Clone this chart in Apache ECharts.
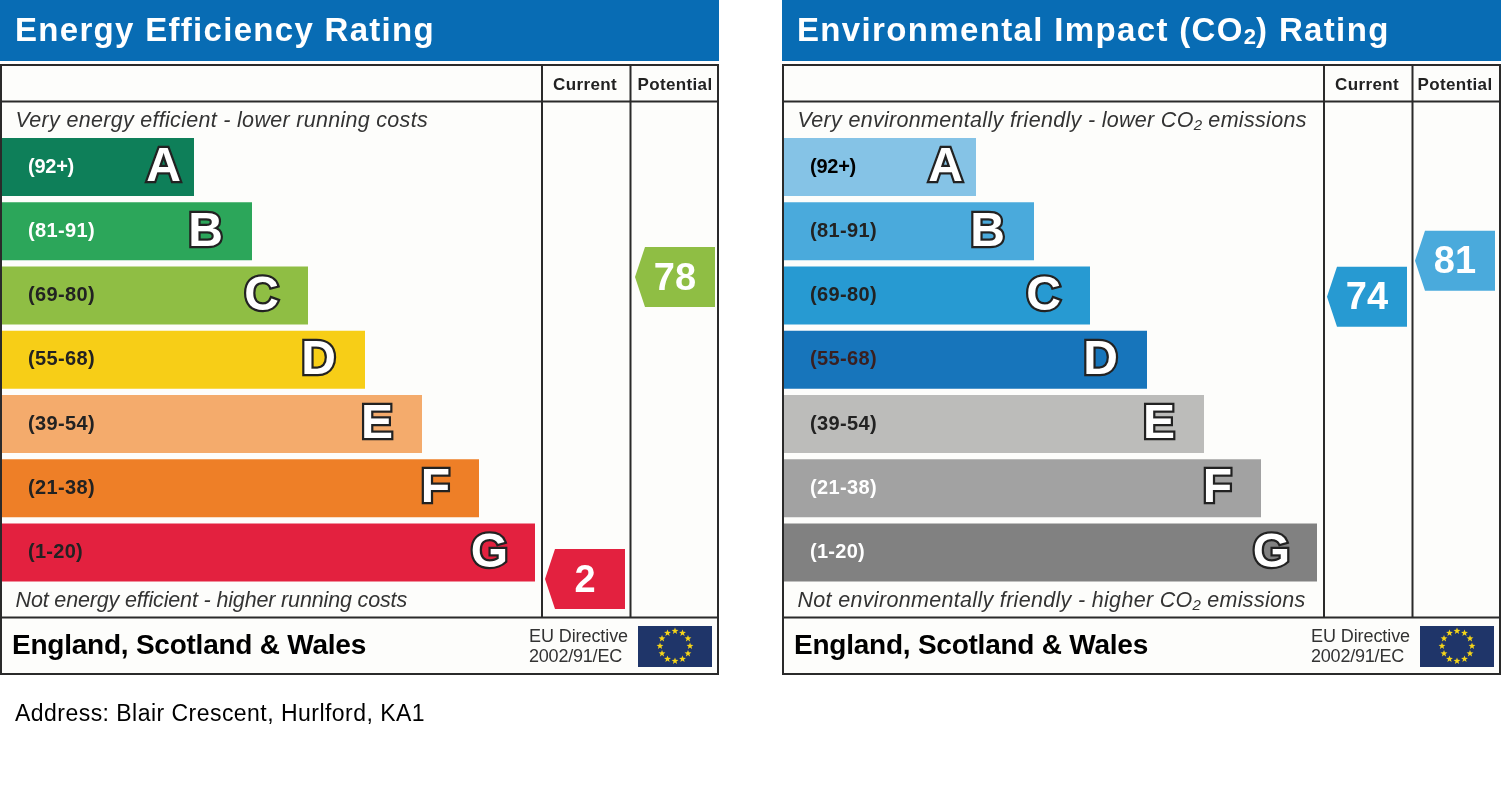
<!DOCTYPE html>
<html><head><meta charset="utf-8">
<style>html,body{margin:0;padding:0;background:#fff}#c{width:1501px;height:805px}</style>
<script src="https://cdn.jsdelivr.net/npm/echarts@6/dist/echarts.min.js"></script>
</head><body><div id="c"></div>
<script>
// ---------- data ----------
const bandLetters = ['A','B','C','D','E','F','G'];
const bandRanges = ['(92+)','(81-91)','(69-80)','(55-68)','(39-54)','(21-38)','(1-20)'];
const bandMinScores = [92,81,69,55,39,21,1];
const bandLengths = [192,250,306,363,420,477,533];
const columnNames = ['Current','Potential'];
const energyScores = [2,78];
const co2Scores = [74,81];
const energyColors = ['#0E7F59','#2CA65A','#8FBE44','#F7CE17','#F4AB6C','#EE7F27','#E3213F'];
const co2Colors = ['#85C3E6','#4AAADC','#279AD2','#1775BB','#BCBCBA','#A2A2A2','#818181'];
const energyRangeColors = ['#fff','#fff','#222','#222','#222','#222','#222'];
const co2RangeColors = ['#000','#222','#222','#3a1f1f','#222','#fff','#fff'];

const FONT = '"Liberation Sans", Arial, sans-serif';
const mc = document.createElement('canvas').getContext('2d');

// Per-string letter spacing: the reference's type is tracked out, canvas supports this natively.
const tracking = {};
const P = CanvasRenderingContext2D.prototype;
const origFill = P.fillText, origStroke = P.strokeText, origMeasure = P.measureText;
P.fillText = function(t,x,y,m){ this.letterSpacing=(tracking[t]||0)+'px'; return m===undefined?origFill.call(this,t,x,y):origFill.call(this,t,x,y,m); };
P.strokeText = function(t,x,y,m){ this.letterSpacing=(tracking[t]||0)+'px'; return m===undefined?origStroke.call(this,t,x,y):origStroke.call(this,t,x,y,m); };
P.measureText = function(t){
  this.letterSpacing='0px';
  const r=origMeasure.call(this,t);
  return tracking[t]?{width:r.width+tracking[t]*t.length}:r;
};
function track(tokens, target){
  let w=0,n=0;
  tokens.forEach(([t,f])=>{mc.font=f;w+=origMeasure.call(mc,t).width;n+=t.length;});
  const s=(target-w)/n;
  tokens.forEach(([t])=>{ if(t.length>1) tracking[t]=s; });
}
function fitText(parts, size, style, x0, x1, y, fill, subSize, subPad){
  const font=(style?style+' ':'')+size+'px '+FONT, subFont=(style?style+' ':'')+subSize+'px '+FONT;
  if(parts.length===1){
    track([[parts[0],font]],x1-x0);
    return {type:'text',x:x0,y:y,silent:true,z:5,
      style:{text:parts[0],font:font,fill:fill,textAlign:'left',textVerticalAlign:'middle'}};
  }
  track([[parts[0],font],[parts[1],subFont],[parts[2],font]],x1-x0);
  return {type:'text',x:x0,y:y,silent:true,z:5,
    style:{text:parts[0]+'{s|'+parts[1]+'}'+parts[2],font:font,fill:fill,textAlign:'left',textVerticalAlign:'middle',
      rich:{s:{font:subFont,fill:fill,padding:[subPad,0,0,0]}}}};
}
function rect(x,y,w,h,fill,stroke,lw){
  return {type:'rect', silent:true, z:1, shape:{x,y,width:w,height:h},
    style:{fill:fill||'transparent', stroke:stroke||null, lineWidth:lw||0}};
}
function line(x1,y1,x2,y2){
  return {type:'line', silent:true, z:2, shape:{x1,y1,x2,y2}, style:{stroke:'#2a2a2a', lineWidth:2}};
}
function star(cx,cy,r){
  const pts=[];
  for(let i=0;i<10;i++){
    const a=-Math.PI/2+i*Math.PI/5, q=i%2?r*0.42:r;
    pts.push([cx+q*Math.cos(a),cy+q*Math.sin(a)]);
  }
  return {type:'polygon', silent:true, z:4, shape:{points:pts}, style:{fill:'#F5D518'}};
}
function panelGraphics(ox, title, hiText, loText){
  const g=[];
  g.push(rect(ox,0,719,61,'#086CB4'));
  g.push(rect(ox+1,65,717,609,'#FDFDFB','#2a2a2a',2));
  g.push(line(ox+1,101.5,ox+718,101.5));
  g.push(line(ox+1,617.5,ox+718,617.5));
  g.push(line(ox+542,65,ox+542,617.5));
  g.push(line(ox+630.5,65,ox+630.5,617.5));
  g.push(fitText(title.parts,33,'bold',ox+15,ox+title.end,31.5,'#fff',22,12));
  g.push(fitText(hiText.parts,21.5,'italic',ox+15.5,ox+hiText.end,121.5,'#333',15,9));
  g.push(fitText(loText.parts,21.5,'italic',ox+15.5,ox+loText.end,601.5,'#333',15,9));
  g.push(fitText(['England, Scotland & Wales'],28,'bold',ox+12,ox+366,646.5,'#000'));
  g.push(fitText(['EU Directive'],18,'',ox+529,ox+628,637.5,'#333'));
  g.push(fitText(['2002/91/EC'],18,'',ox+529,ox+622,657.5,'#333'));
  g.push(rect(ox+638,626,74,41,'#1F3569'));
  for(let i=0;i<12;i++){
    const a=i*Math.PI/6;
    g.push(star(ox+675+15*Math.sin(a),646-15*Math.cos(a),3.6));
  }
  return g;
}
function bandIndex(score){ return bandMinScores.findIndex(m=>score>=m); }

const rangeFont='bold 20px '+FONT, headFont='bold 17px '+FONT;
const rangeWidths=[46,67,67,67,67,67,55];
bandRanges.forEach((r,i)=>track([[r,rangeFont]],rangeWidths[i]));
track([[columnNames[0],headFont]],64);
track([[columnNames[1],headFont]],75);

const grid=[], xAxis=[], yAxis=[], series=[];
function addPanel(ox, colors, rangeColors, scores, ratingMin, ratingMax, colLeft, colWidth){
  const gi=grid.length;
  grid.push({left:ox+2,top:135,width:540,height:449.6});
  xAxis.push({type:'value',gridIndex:gi,min:0,max:540,show:false});
  yAxis.push({type:'category',gridIndex:gi,inverse:true,data:bandLetters,show:false});
  series.push({type:'bar',xAxisIndex:gi,yAxisIndex:gi,barWidth:58,barGap:'-100%',silent:true,
    data:bandLengths.map((v,i)=>({value:v,itemStyle:{color:colors[i]},
      label:{show:true,position:'insideRight',distance:i===0?13:i===6?27:29,offset:[0,1],formatter:bandLetters[i],
        color:'#fff',fontFamily:FONT,fontWeight:'bold',fontSize:48,
        textBorderColor:'#222',textBorderWidth:4.5}}))});
  series.push({type:'bar',xAxisIndex:gi,yAxisIndex:gi,barWidth:58,barGap:'-100%',silent:true,
    data:bandLengths.map((v,i)=>({value:v,itemStyle:{color:'transparent'},
      label:{show:true,position:'insideLeft',distance:26,formatter:bandRanges[i],
        color:rangeColors[i],fontFamily:FONT,fontWeight:'bold',fontSize:20}}))});
  const gj=grid.length;
  grid.push({left:ox+colLeft,top:102,width:colWidth,height:515});
  xAxis.push({type:'category',gridIndex:gj,position:'top',data:columnNames,z:6,
    axisLine:{show:false},axisTick:{show:false},
    axisLabel:{interval:0,hideOverlap:false,color:'#222',fontFamily:FONT,fontWeight:'bold',fontSize:17,margin:8}});
  yAxis.push({type:'value',gridIndex:gj,min:ratingMin,max:ratingMax,show:false,splitLine:{show:false}});
  series.push({type:'custom',xAxisIndex:gj,yAxisIndex:gj,silent:true,clip:false,
    encode:{x:0,y:1},
    data:scores.map((s,i)=>[i,s]),
    renderItem:function(params,api){
      const p=api.coord([api.value(0),api.value(1)]);
      const cx=p[0], cy=p[1], s=api.value(1);
      return {type:'group',children:[
        {type:'polygon',shape:{points:[[cx-40,cy],[cx-30,cy-30],[cx+40,cy-30],[cx+40,cy+30],[cx-30,cy+30]]},
          style:{fill:colors[bandIndex(s)]}},
        {type:'text',x:cx,y:cy+2,style:{text:String(s),fill:'#fff',font:'bold 38px '+FONT,
          textAlign:'center',textVerticalAlign:'middle'}}
      ]};
    }});
}
addPanel(0,energyColors,energyRangeColors,energyScores,-7.55,122.04,540,180);
addPanel(782,co2Colors,co2RangeColors,co2Scores,11.7,111.9,541,176);

const graphic=[].concat(
  panelGraphics(0,{parts:['Energy Efficiency Rating'],end:435},
    {parts:['Very energy efficient - lower running costs'],end:428},
    {parts:['Not energy efficient - higher running costs'],end:407}),
  panelGraphics(782,{parts:['Environmental Impact (CO','2',') Rating'],end:609},
    {parts:['Very environmentally friendly - lower CO','2',' emissions'],end:525},
    {parts:['Not environmentally friendly - higher CO','2',' emissions'],end:524}),
  [fitText(['Address: Blair Crescent, Hurlford, KA1'],23,'',15,425,715,'#000')]
);

const chart=echarts.init(document.getElementById('c'));
chart.setOption({animation:false,backgroundColor:'#fff',grid,xAxis,yAxis,series,graphic});
</script></body></html>
